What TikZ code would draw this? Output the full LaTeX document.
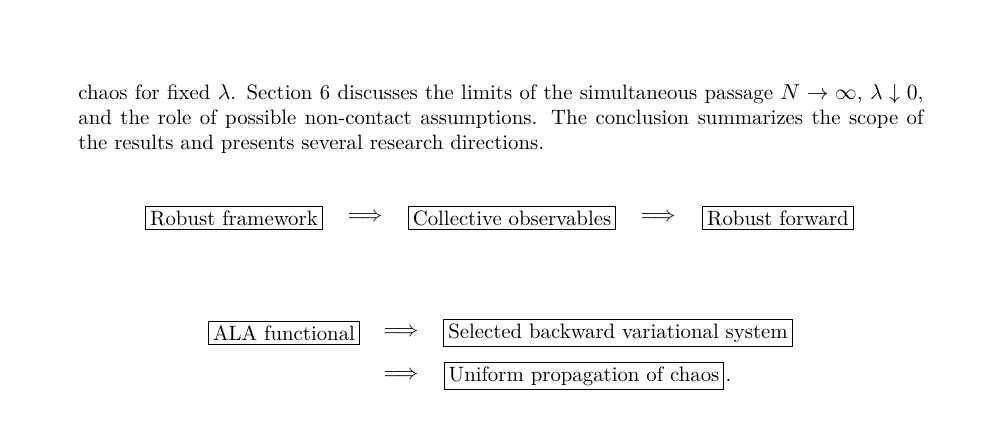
\documentclass[tikz,border=0pt]{standalone}
\usepackage{amsmath}
\usepackage{amssymb}
\usepackage{tikz}
\usetikzlibrary{positioning}

\begin{document}
\begin{tikzpicture}[x=0.4615pt,y=0.4615pt,yscale=-1,xscale=1,every node/.style={font=\fontsize{9.6}{11.6}\selectfont}]
        \useasboundingbox (0,0) rectangle (1000,423);

        % paragraph
        \node (para) [anchor=north west,inner sep=0pt,text width=390pt,align=justify] at (78,84)
        {chaos for fixed $\lambda$. Section 6 discusses the limits of the simultaneous passage $N\to\infty$, $\lambda\downarrow 0$, and the role of possible non-contact assumptions. The conclusion summarizes the scope of the results and presents several research directions.};

        \tikzset{box/.style={draw,inner sep=2pt,line width=0.4pt}}

        % first row
        \node (frame) [box] at (234,218) {Robust framework};
        \node (imp1) at (365,218) {$\Longrightarrow$};
        \node (coll) [box] at (512,218) {Collective observables};
        \node (imp2) at (658,218) {$\Longrightarrow$};
        \node (fwd) [box] at (778,218) {Robust forward};

        % second row
        \node (ala) [box] at (284,333) {ALA functional};
        \node (imp3) at (401,333) {$\Longrightarrow$};
        \node (back) [box] at (618,333) {Selected backward variational system};
        \node (imp4) at (401,376) {$\Longrightarrow$};
        \node (unif) [box] at (584,376) {Uniform propagation of chaos};
        \node (dot) [anchor=base west,inner sep=0.5pt] at (unif.base east) {.};
\end{tikzpicture}
\end{document}
